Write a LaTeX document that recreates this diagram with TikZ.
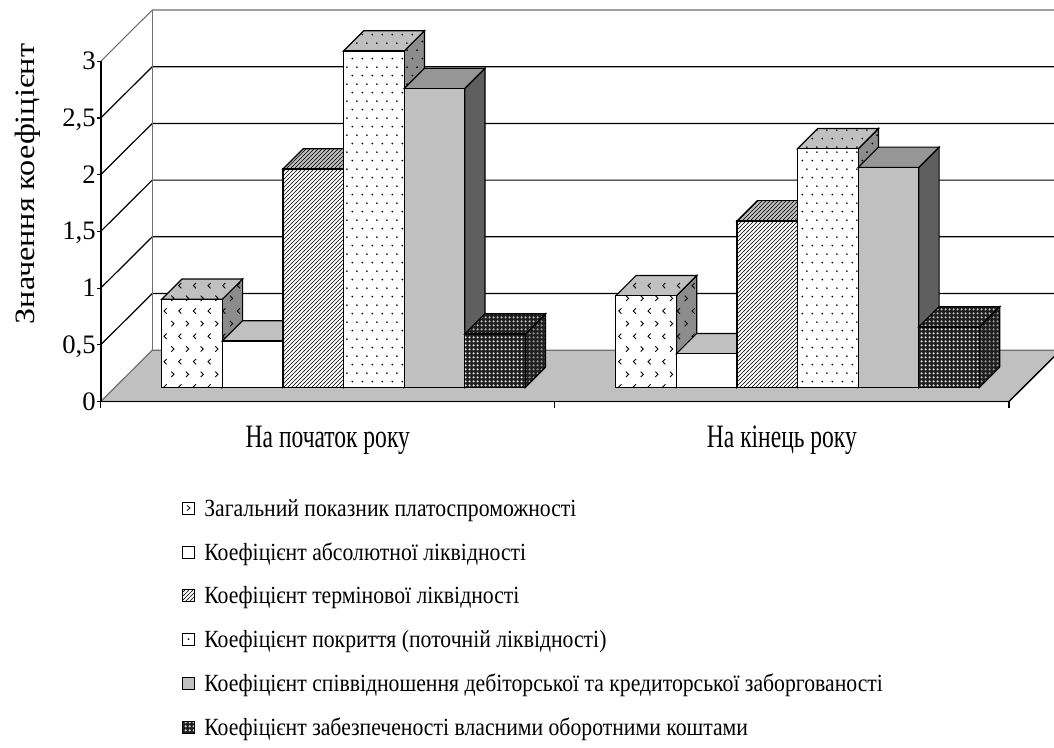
\documentclass[tikz,border=0pt]{standalone}
\usepackage{fontspec}
\setmainfont{Liberation Serif}
\newfontfamily\legfont[FakeStretch=0.88]{Liberation Serif}
\newfontfamily\catfont[FakeStretch=0.72]{Liberation Serif}
\newfontfamily\titfont[FakeStretch=1.15]{Liberation Serif}
\usetikzlibrary{patterns}
\definecolor{grayC}{HTML}{C0C0C0}
\definecolor{grayD}{HTML}{8C8C8C}
\definecolor{grayE}{HTML}{969696}
\definecolor{grayF}{HTML}{5F5F5F}
\definecolor{edgegray}{HTML}{707070}
\pgfdeclarepatternformonly{chevr}{\pgfqpoint{-1pt}{-1pt}}{\pgfqpoint{12pt}{20pt}}{\pgfqpoint{11pt}{19pt}}{%
  \pgfsetlinewidth{0.65pt}%
  \pgfpathmoveto{\pgfqpoint{4pt}{2pt}}\pgfpathlineto{\pgfqpoint{2pt}{4pt}}\pgfpathlineto{\pgfqpoint{4pt}{6pt}}\pgfusepath{stroke}%
  \pgfpathmoveto{\pgfqpoint{7.5pt}{11.5pt}}\pgfpathlineto{\pgfqpoint{9.5pt}{13.5pt}}\pgfpathlineto{\pgfqpoint{7.5pt}{15.5pt}}\pgfusepath{stroke}}
\pgfdeclarepatternformonly{hatchne}{\pgfqpoint{-0.5pt}{-0.5pt}}{\pgfqpoint{3.5pt}{3.5pt}}{\pgfqpoint{3pt}{3pt}}{%
  \pgfsetlinewidth{0.4pt}%
  \pgfpathmoveto{\pgfqpoint{-0.2pt}{-0.2pt}}\pgfpathlineto{\pgfqpoint{3.2pt}{3.2pt}}\pgfusepath{stroke}}
\pgfdeclarepatternformonly{sdots}{\pgfqpoint{0pt}{0pt}}{\pgfqpoint{7.5pt}{13pt}}{\pgfqpoint{7.5pt}{13pt}}{%
  \pgfpathcircle{\pgfqpoint{1.9pt}{1.9pt}}{0.75pt}\pgfpathcircle{\pgfqpoint{5.6pt}{8.4pt}}{0.75pt}\pgfusepath{fill}}
\pgfdeclarepatternformonly{wdots}{\pgfqpoint{0pt}{0pt}}{\pgfqpoint{3pt}{3pt}}{\pgfqpoint{3pt}{3pt}}{%
  \pgfpathcircle{\pgfqpoint{1.5pt}{1.5pt}}{1.05pt}\pgfusepath{fill}}
\tikzset{
  edge/.style={draw=black, line width=0.9pt, line join=miter},
  f1/.style={edge, preaction={fill=white}, pattern=chevr, pattern color=black},
  t1/.style={edge, preaction={fill=grayC}, pattern=chevr, pattern color=black},
  d1/.style={edge, preaction={fill=grayD}, pattern=chevr, pattern color=black},
  f2/.style={edge, fill=white},
  t2/.style={edge, fill=grayC},
  d2/.style={edge, fill=grayD},
  f3/.style={edge, preaction={fill=white}, pattern=hatchne, pattern color=black},
  t3/.style={edge, preaction={fill=grayC}, pattern=hatchne, pattern color=black},
  d3/.style={edge, preaction={fill=grayD}, pattern=hatchne, pattern color=black},
  f4/.style={edge, preaction={fill=white}, pattern=sdots, pattern color=black},
  t4/.style={edge, preaction={fill=grayC}, pattern=sdots, pattern color=black},
  d4/.style={edge, preaction={fill=grayD}, pattern=sdots, pattern color=black},
  f5/.style={edge, fill=grayC},
  t5/.style={edge, fill=grayE},
  d5/.style={edge, fill=grayF},
  f6/.style={edge, preaction={fill=black!88}, pattern=wdots, pattern color=white!90!black},
  t6/.style={edge, preaction={fill=black!88}, pattern=wdots, pattern color=white!75!black},
  d6/.style={edge, preaction={fill=black!88}, pattern=wdots, pattern color=white!60!black},
  gridl/.style={draw=black, line width=0.9pt},
  walledge/.style={draw=edgegray, line width=0.8pt},
  axisl/.style={draw=black, line width=1.4pt},
  tickl/.style={draw=black, line width=0.9pt},
  ticklab/.style={font=\fontsize{20}{24}\selectfont, inner sep=0pt, anchor=base east},
  catlab/.style={font=\catfont\fontsize{24.5}{28}\selectfont, inner sep=0pt, anchor=base},
  leglab/.style={font=\legfont\fontsize{18.5}{22}\selectfont, inner sep=0pt, anchor=base west},
  legbox/.style={draw=black, line width=0.7pt},
  titlab/.style={font=\titfont\fontsize{21}{25}\selectfont, inner sep=0pt, rotate=90}
}
\newcommand\drawbox[3]{%
  \path[d#3] ({#1+60.6},#2) -- ++(20.3,-20.3) -- ({#1+80.9},367.1) -- ({#1+60.6},387.4) -- cycle;
  \path[t#3] (#1,#2) -- ({#1+60.6},#2) -- ++(20.3,-20.3) -- ({#1+20.3},{#2-20.3}) -- cycle;
  \path[f#3] (#1,#2) rectangle ({#1+60.6},387.4);
}
\begin{document}
\begin{tikzpicture}[x=0.75pt,y=-0.75pt]
\useasboundingbox (0,0) rectangle (1054,747);
\fill[white] (0,0) rectangle (1054,747);
\begin{scope}
\clip (0,0) rectangle (1054,747);
% floor
\path[fill=grayC, draw=edgegray, line width=0.9pt] (100.7,401.5) -- (1009,401.5) -- (1060.6,350.2) -- (152.3,350.2) -- cycle;
\draw[line width=1pt] (1009,401.5) -- (1060.6,350.2);
% gridlines on side and back walls
\foreach \k in {1,...,5} {
  \draw[gridl] (100.7,{401.5-56.7*\k}) -- (152.3,{350.2-56.7*\k}) -- (1054,{350.2-56.7*\k});
}
\draw[walledge] (100.7,61.3) -- (152.3,10) -- (1054,10);
\draw[walledge] (152.3,10) -- (152.3,350.2);
% bars, first category
\drawbox{161.7}{299.3}{1}
\drawbox{222.3}{341}{2}
\drawbox{282.9}{169}{3}
\drawbox{343.5}{51}{4}
\drawbox{404.1}{88.6}{5}
\drawbox{464.7}{334}{6}
% bars, second category
\drawbox{615.8}{295.8}{1}
\drawbox{676.4}{353.7}{2}
\drawbox{737.0}{220.9}{3}
\drawbox{797.6}{148.7}{4}
\drawbox{858.2}{167.4}{5}
\drawbox{918.8}{327}{6}
\end{scope}
% value axis
\draw[axisl] (100.7,61.3) -- (100.7,401.5);
\foreach \k/\lab in {0/0,1/{0,5},2/1,3/{1,5},4/2,5/{2,5},6/3} {
  \draw[tickl] (97,{401.5-56.7*\k}) -- (100.7,{401.5-56.7*\k});
  \node[ticklab] (yl\k) at (96,{401.5-56.7*\k+8.5}) {\lab};
}
% category axis
\draw[axisl] (100.7,401.5) -- (1009,401.5);
\foreach \xx in {100.7,554.85,1009} {
  \draw[tickl] (\xx,401.5) -- (\xx,407.5);
}
\node[catlab] (c1) at (327.8,447) {На початок року};
\node[catlab] (c2) at (781.9,447) {На кінець року};
% axis title
\node[titlab] (yt) at (28,184) {Значення коефіцієнт};
% legend
\path[legbox, fill=white] (182.5,502) rectangle (194.5,514);
\draw[line width=0.6pt] (187,505.5) -- (190,508) -- (187,510.5);
\node[leglab] (lg1) at (204,516) {Загальний показник платоспроможності};
\path[legbox, fill=white] (182.5,546) rectangle (194.5,558);
\node[leglab] (lg2) at (204,560) {Коефіцієнт абсолютної ліквідності};
\path[legbox, preaction={fill=white}, pattern=hatchne, pattern color=black] (182.5,589.5) rectangle (194.5,601.5);
\node[leglab] (lg3) at (204,603.5) {Коефіцієнт термінової ліквідності};
\path[legbox, fill=white] (182.5,633) rectangle (194.5,645);
\fill (188.5,639) circle (1);
\node[leglab] (lg4) at (204,647) {Коефіцієнт покриття (поточній ліквідності)};
\path[legbox, fill=grayC] (182.5,677) rectangle (194.5,689);
\node[leglab] (lg5) at (204,691) {Коефіцієнт співвідношення дебіторської та кредиторської заборгованості};
\path[legbox, preaction={fill=black!88}, pattern=wdots, pattern color=white!85!black] (182.5,721) rectangle (194.5,733);
\node[leglab] (lg6) at (204,735) {Коефіцієнт забезпеченості власними оборотними коштами};
\end{tikzpicture}
\end{document}
